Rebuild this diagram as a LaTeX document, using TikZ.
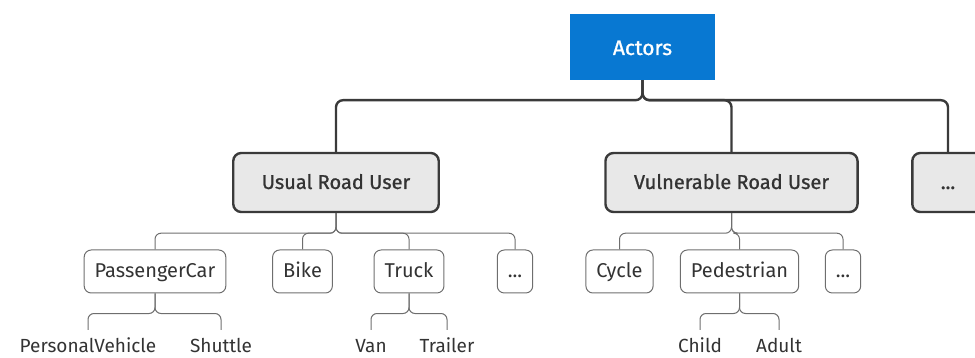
\documentclass[tikz,border=0pt]{standalone}
\usepackage{fontspec}
\setmainfont{Fira Sans}
\newfontfamily\semibold[FakeBold=1]{Fira Sans}
\usetikzlibrary{positioning,calc}
\definecolor{actorblue}{RGB}{8,120,210}
\definecolor{groupgray}{RGB}{232,232,232}
\definecolor{linedark}{RGB}{58,58,58}
\definecolor{linegray}{RGB}{110,110,110}
\tikzset{
    root/.style={fill=actorblue, text=white, minimum width=145pt, minimum height=66pt, text height=16pt, text depth=0pt, font=\semibold\fontsize{21}{24}\selectfont},
    group/.style={draw=linedark, line width=2.4pt, fill=groupgray, rounded corners=8pt, minimum height=59pt, inner xsep=28.5pt, text=black!80, text height=16pt, text depth=3pt, font=\semibold\fontsize{20}{24}\selectfont},
    item/.style={draw=linegray, line width=1pt, rounded corners=7pt, minimum height=43pt, inner xsep=10.5pt, text=black!80, text height=16pt, text depth=3pt, font=\fontsize{20}{24}\selectfont},
    leaf/.style={inner xsep=0pt, inner ysep=8.5pt, text=black!80, text height=14pt, text depth=5pt, font=\fontsize{19}{23}\selectfont},
    trunk/.style={draw=linedark, line width=2.4pt, rounded corners=7pt},
    branch/.style={draw=linegray, line width=1pt, rounded corners=6pt}
}

\begin{document}
\begin{tikzpicture}[x=1pt, y=-1pt]
    \useasboundingbox (0,0) rectangle (975,358);

    % Root
    \node[root] (actors) at (642.5,47) {Actors};

    % First level
    \node[group] (usual) at (336,182.5) {Usual Road User};
    \node[group] (vulner) at (731.5,182.5) {Vulnerable Road User};
    \node[group] (more1) at (948,182.5) {...};
    \foreach \n in {usual,vulner,more1}
        \draw[trunk] (\n.north) |- ($(actors.south)+(0,20)$) -- (actors.south);

    % Second level: usual road users
    \node[item] (pcar) at (155,271.5) {PassengerCar};
    \node[item] (bike) at (302.5,271.5) {Bike};
    \node[item] (truck) at (409,271.5) {Truck};
    \node[item] (more2) at (515,271.5) {...};
    \foreach \n in {pcar,bike,truck,more2}
        \draw[branch] (\n.north) |- ($(usual.south)+(0,20)$) -- (usual.south);

    % Second level: vulnerable road users
    \node[item] (cycle) at (619.5,271.5) {Cycle};
    \node[item] (pedes) at (739.5,271.5) {Pedestrian};
    \node[item] (more3) at (843,271.5) {...};
    \foreach \n in {cycle,pedes,more3}
        \draw[branch] (\n.north) |- ($(vulner.south)+(0,20)$) -- (vulner.south);

    % Leaves
    \node[leaf] (pveh) at (88,348) {PersonalVehicle};
    \node[leaf] (shuttle) at (221,348) {Shuttle};
    \draw[branch] (pveh.north) |- ($(pcar.south)+(0,20)$) -- (pcar.south);
    \draw[branch] (shuttle.north) |- ($(pcar.south)+(0,20)$) -- (pcar.south);

    \node[leaf] (van) at (371,348) {Van};
    \node[leaf] (trailer) at (447,348) {Trailer};
    \draw[branch] (van.north) |- ($(truck.south)+(0,20)$) -- (truck.south);
    \draw[branch] (trailer.north) |- ($(truck.south)+(0,20)$) -- (truck.south);

    \node[leaf] (child) at (700,348) {Child};
    \node[leaf] (adult) at (779,348) {Adult};
    \draw[branch] (child.north) |- ($(pedes.south)+(0,20)$) -- (pedes.south);
    \draw[branch] (adult.north) |- ($(pedes.south)+(0,20)$) -- (pedes.south);
\end{tikzpicture}
\end{document}
